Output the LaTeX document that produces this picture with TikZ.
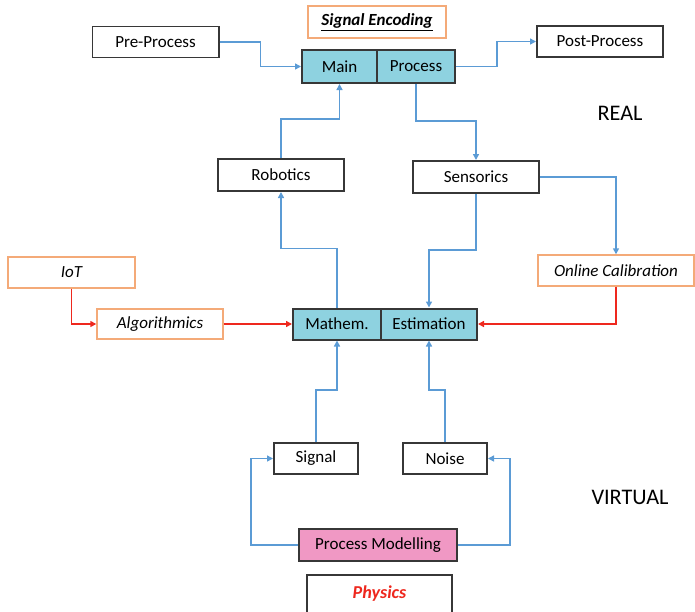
\documentclass[tikz,border=0pt]{standalone}
\usepackage{fontspec}
\setmainfont{Carlito}
\usetikzlibrary{arrows.meta}
\definecolor{flowblue}{RGB}{91,155,213}
\definecolor{flowred}{RGB}{238,40,30}
\definecolor{lineorange}{RGB}{244,170,120}
\definecolor{boxgray}{RGB}{55,55,55}
\definecolor{corefill}{RGB}{142,210,224}
\definecolor{modelfill}{RGB}{240,152,196}
\tikzset{
  box/.style={draw=boxgray, line width=1.7pt, fill=white, inner sep=1pt,
    minimum height=0.93cm, font=\fontsize{14.5}{16}\selectfont},
  topic/.style={box, draw=lineorange, line width=1.2pt, font=\fontsize{14.5}{16}\selectfont\itshape},
  core/.style={box, fill=corefill},
  flow/.style={draw=flowblue, line width=1.3pt, -{Triangle[length=1.8mm,width=1.8mm]}},
  feed/.style={flow, draw=flowred},
  tag/.style={font=\fontsize{19}{22}\selectfont}
}
\begin{document}
\begin{tikzpicture}[x=0.03cm, y=-0.03cm]
  \useasboundingbox (0,0) rectangle (695,611);
  % real part
  \node [box, minimum width=3.78cm] (pre) at (155.5,42) {Pre-Process};
  \node [topic, minimum width=4.14cm, minimum height=0.96cm, font=\fontsize{14.5}{16}\selectfont\itshape\bfseries] (enc) at (377,22) {\underline{Signal Encoding}};
  \node [core, minimum width=2.25cm, minimum height=0.99cm] (main) at (339.5,66.5) {Main};
  \node [core, minimum width=2.34cm, minimum height=0.99cm] (process) at (416,66.5) {Process};
  \node [box, minimum width=3.78cm] (post) at (600,41.5) {Post-Process};
  \node [tag] (real) at (620,113) {REAL};
  \node [box, minimum width=3.78cm, minimum height=0.96cm] (robot) at (281,175) {Robotics};
  \node [box, minimum width=3.78cm, minimum height=0.96cm] (sens) at (476,177) {Sensorics};

  % middle
  \node [topic, minimum width=3.81cm] (iot) at (71.5,272.5) {IoT};
  \node [topic, minimum width=3.78cm, minimum height=0.9cm] (algo) at (160,324) {Algorithmics};
  \node [core, minimum width=2.64cm] (math) at (337,324) {Mathem.};
  \node [core, minimum width=2.88cm] (est) at (429,324) {Estimation};
  \node [topic, minimum width=4.68cm] (online) at (616,270.5) {Online Calibration};

  % virtual part
  \node [box, minimum width=2.52cm] (signal) at (316,458.5) {Signal};
  \node [box, minimum width=2.52cm] (noise) at (445,458.5) {Noise};
  \node [tag] (virtual) at (630,497) {VIRTUAL};
  \node [box, fill=modelfill, minimum width=4.74cm, minimum height=0.96cm] (pm) at (378,545) {Process Modelling};
  \node [box, minimum width=4.35cm, minimum height=1.14cm, text=flowred,
    font=\fontsize{15.5}{17}\selectfont\itshape\bfseries] (phys) at (379.5,594) {Physics};

  \draw [flow] (pre.east) -- ++(41,0) |- (main.west);
  \draw [flow] (process.east) -- ++(41,0) |- (post.west);
  \draw [flow] (process.south) -- ++(0,37) -| (sens.north);
  \draw [flow] (robot.north) -- ++(0,-39) -| (main.south);
  \draw [flow] (math.north) -- ++(0,-59) -| (robot.south);
  \draw [flow] (sens.south) -- ++(0,56) -| (est.north);
  \draw [flow] (sens.east) -| (online.north);
  \draw [feed] (online.south) |- (est.east);
  \draw [feed] (iot.south) |- (algo.west);
  \draw [feed] (algo) -- (math);
  \draw [flow] (signal.north) -- ++(0,-52) -| (math.south);
  \draw [flow] (noise.north) -- ++(0,-52) -| (est.south);
  \draw [flow] (pm.west) -- ++(-47,0) |- (signal.west);
  \draw [flow] (pm.east) -- ++(52,0) |- (noise.east);
\end{tikzpicture}
\end{document}
